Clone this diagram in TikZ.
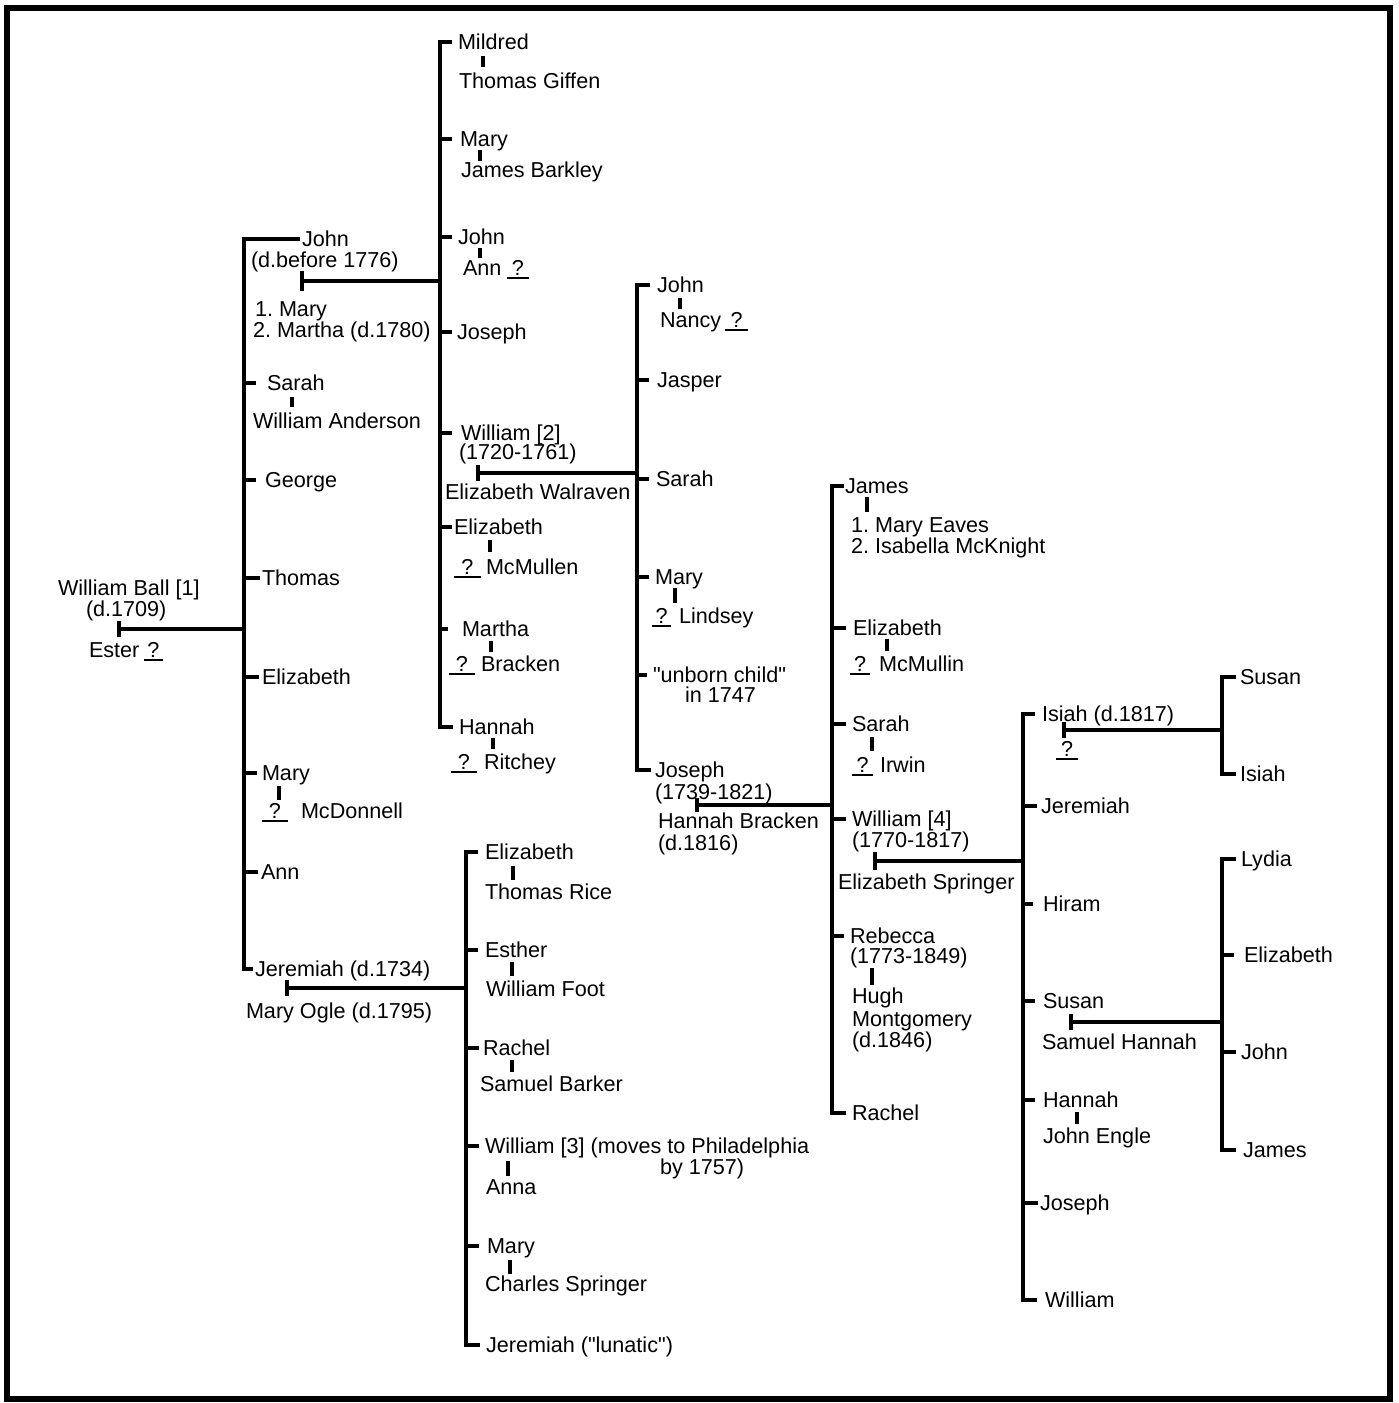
\documentclass[tikz,border=0pt]{standalone}
\usepackage{fontspec}
\setmainfont{Liberation Sans}
\frenchspacing
\newcommand\ulq[1]{\makebox[#1][c]{?}\llap{\rule[-1.6pt]{#1}{0.9pt}}}
\newcommand\sq{\XeTeXglyph\XeTeXcharglyph34\relax}
\newcommand\ctick[3]{\draw[famline] (#1.west -| #2) -- ++(#3,0);}
\newcommand\cbar[5]{\draw[famline] (#1.west -| #3) ++(#4,0) -- (#1.west -| #3) -- (#2.west -| #3) -- ++(#5,0);}
\newcommand\marr[3]{\draw[famline] (#1) ++(0,-#2) -- ++(0,#2*2); \draw[famline] (#1) -- (#1 -| #3);}
\begin{document}
\begin{tikzpicture}[x=0.5pt,y=-0.5pt,
  t/.style={anchor=west, inner sep=0pt, outer sep=0pt, text height=7.7pt, text depth=0pt, font=\fontsize{10.8}{11}\selectfont},
  famline/.style={line width=1.6pt}]
\useasboundingbox (0,0) rectangle (1398,1403);
\draw[line width=3pt] (6.5,8) rectangle (1390,1399);

% bar coordinates
\coordinate (b2) at (244,0);
\coordinate (b3) at (440,0);
\coordinate (b4) at (637,0);
\coordinate (b5) at (832,0);
\coordinate (b6) at (1023,0);
\coordinate (b7) at (1222,0);
\coordinate (b8) at (1222,0);
\coordinate (b9) at (466,0);

% generation 1
\node[t] (wb) at (58,588) {William Ball [1]};
\node[t] (wbd) at (86,609) {(d.1709)};
\node[t] (ester) at (89,650) {Ester};
\node[t] (q0) at (144,650) {\ulq{9.5pt}};
\coordinate (m1) at (119,629);
\marr{m1}{8}{b2}

% generation 2
\node[t] (john) at (302,239) {John};
\node[t] (johnd) at (251,260) {(d.before 1776)};
\node[t] (jw1) at (255,309) {1. Mary};
\node[t] (jw2) at (253,330) {2. Martha (d.1780)};
\coordinate (m2) at (302,281);
\marr{m2}{10}{b3}
\node[t] (sarah) at (267,383) {Sarah};
\draw[famline] (292,397) -- (292,407);
\node[t] (wanderson) at (253,421) {William Anderson};
\node[t] (george) at (265,480) {George};
\node[t] (thomas) at (262,578) {Thomas};
\node[t] (eliz2) at (262,677) {Elizabeth};
\node[t] (mary2) at (262,773) {Mary};
\draw[famline] (279,786) -- (279,800);
\node[t] (q2) at (262,811) {\ulq{13pt}};
\node[t] (mcdonnell) at (301,811) {McDonnell};
\node[t] (ann2) at (261,872) {Ann};
\node[t] (jer) at (255,969) {Jeremiah (d.1734)};
\coordinate (m3) at (287,988);
\marr{m3}{8}{b9}
\node[t] (ogle) at (246,1011) {Mary Ogle (d.1795)};
\cbar{john}{jer}{b2}{56}{9}
\ctick{sarah}{b2}{12}
\ctick{george}{b2}{12}
\ctick{thomas}{b2}{16}
\ctick{eliz2}{b2}{15}
\ctick{mary2}{b2}{13}
\ctick{ann2}{b2}{14}

% generation 3 (John's children)
\node[t] (mildred) at (458,42) {Mildred};
\draw[famline] (483,56) -- (483,67);
\node[t] (tgiffen) at (459,81) {Thomas Giffen};
\node[t] (mary3) at (460,139) {Mary};
\draw[famline] (480,150) -- (480,161);
\node[t] (jbarkley) at (461,170) {James Barkley};
\node[t] (john3) at (458,237) {John};
\draw[famline] (480,248) -- (480,258);
\node[t] (ann3) at (463,268) {Ann};
\node[t] (q3) at (507,268) {\ulq{11pt}};
\node[t] (joseph3) at (457,332) {Joseph};
\node[t] (will2) at (461,433) {William [2]};
\node[t] (will2d) at (459,452) {(1720-1761)};
\coordinate (m4) at (478,473);
\marr{m4}{8}{b4}
\node[t] (ewalraven) at (445,492) {Elizabeth Walraven};
\node[t] (eliz3) at (454,527) {Elizabeth};
\draw[famline] (490,540) -- (490,552);
\node[t] (q4) at (454,567) {\ulq{13.5pt}};
\node[t] (mcmullen) at (486,567) {McMullen};
\node[t] (martha3) at (462,629) {Martha};
\draw[famline] (491,641) -- (491,652);
\node[t] (q5) at (449,664) {\ulq{13pt}};
\node[t] (bracken) at (481,664) {Bracken};
\node[t] (hannah3) at (459,727) {Hannah};
\draw[famline] (493,738) -- (493,749);
\node[t] (q6) at (451,762) {\ulq{13pt}};
\node[t] (ritchey) at (484,762) {Ritchey};
\cbar{mildred}{hannah3}{b3}{12}{13}
\ctick{mary3}{b3}{12}
\ctick{john3}{b3}{12}
\ctick{joseph3}{b3}{12}
\ctick{will2}{b3}{12}
\ctick{eliz3}{b3}{12}
\ctick{martha3}{b3}{8}

% generation 4 (William [2]'s children)
\node[t] (john4) at (657,285) {John};
\draw[famline] (680,298) -- (680,309);
\node[t] (nancy) at (660,320) {Nancy};
\node[t] (q7) at (725,320) {\ulq{11.5pt}};
\node[t] (jasper) at (657,380) {Jasper};
\node[t] (sarah4) at (656,479) {Sarah};
\node[t] (mary4) at (655,577) {Mary};
\draw[famline] (675,588) -- (675,603);
\node[t] (q8) at (652,616) {\ulq{9.5pt}};
\node[t] (lindsey) at (679,616) {Lindsey};
\node[t] (unborn) at (653,675) {\sq unborn child\sq};
\node[t] (in1747) at (685,695) {in 1747};
\node[t] (joseph4) at (655,770) {Joseph};
\node[t] (joseph4d) at (655,792) {(1739-1821)};
\coordinate (m5) at (697,805);
\marr{m5}{7}{b5}
\node[t] (hbracken) at (658,821) {Hannah Bracken};
\node[t] (hbrackend) at (658,843) {(d.1816)};
\cbar{john4}{joseph4}{b4}{13}{14}
\ctick{jasper}{b4}{12}
\ctick{sarah4}{b4}{12}
\ctick{mary4}{b4}{12}
\ctick{unborn}{b4}{10}

% generation 5 (Joseph's children)
\node[t] (james5) at (845,486) {James};
\draw[famline] (867,497) -- (867,512);
\node[t] (mw1) at (851,525) {1. Mary Eaves};
\node[t] (mw2) at (851,546) {2. Isabella McKnight};
\node[t] (eliz5) at (853,628) {Elizabeth};
\draw[famline] (887,639) -- (887,651);
\node[t] (q9) at (850,664) {\ulq{10pt}};
\node[t] (mcmullin) at (879,664) {McMullin};
\node[t] (sarah5) at (852,724) {Sarah};
\draw[famline] (872,737) -- (872,751);
\node[t] (q10) at (852,765) {\ulq{10.5pt}};
\node[t] (irwin) at (880,765) {Irwin};
\node[t] (will4) at (852,819) {William [4]};
\node[t] (will4d) at (852,840) {(1770-1817)};
\coordinate (m6) at (875,861);
\marr{m6}{9}{b6}
\node[t] (espringer) at (838,882) {Elizabeth Springer};
\node[t] (rebecca) at (850,936) {Rebecca};
\node[t] (rebeccad) at (850,956) {(1773-1849)};
\draw[famline] (872,968) -- (872,985);
\node[t] (hugh) at (852,996) {Hugh};
\node[t] (montg) at (852,1019) {Montgomery};
\node[t] (hughd) at (852,1040) {(d.1846)};
\node[t] (rachel5) at (852,1113) {Rachel};
\cbar{james5}{rachel5}{b5}{12}{14}
\ctick{eliz5}{b5}{14}
\ctick{sarah5}{b5}{14}
\ctick{will4}{b5}{14}
\ctick{rebecca}{b5}{12}

% generation 6 (William [4]'s children)
\node[t] (isiah) at (1042,714) {Isiah (d.1817)};
\coordinate (m7) at (1064,730);
\marr{m7}{8}{b7}
\node[t] (q11) at (1056,749) {\ulq{11pt}};
\node[t] (jer6) at (1041,806) {Jeremiah};
\node[t] (hiram) at (1043,904) {Hiram};
\node[t] (susan6) at (1043,1001) {Susan};
\coordinate (m8) at (1071,1022);
\marr{m8}{8}{b8}
\node[t] (shannah) at (1042,1042) {Samuel Hannah};
\node[t] (hannah6) at (1043,1100) {Hannah};
\draw[famline] (1077,1112) -- (1077,1124);
\node[t] (jengle) at (1043,1136) {John Engle};
\node[t] (joseph6) at (1040,1203) {Joseph};
\node[t] (william6) at (1045,1300) {William};
\cbar{isiah}{william6}{b6}{12}{14}
\ctick{jer6}{b6}{14}
\ctick{hiram}{b6}{10}
\ctick{susan6}{b6}{12}
\ctick{hannah6}{b6}{12}
\ctick{joseph6}{b6}{15}

% generation 7
\node[t] (susan7) at (1240,677) {Susan};
\node[t] (isiah7) at (1240,774) {Isiah};
\cbar{susan7}{isiah7}{b7}{14}{14}
\node[t] (lydia) at (1241,859) {Lydia};
\node[t] (eliz8) at (1244,955) {Elizabeth};
\node[t] (john8) at (1241,1052) {John};
\node[t] (james8) at (1243,1150) {James};
\cbar{lydia}{james8}{b8}{14}{14}
\ctick{eliz8}{b8}{12}
\ctick{john8}{b8}{14}

% Jeremiah's children
\node[t] (eliz9) at (485,852) {Elizabeth};
\draw[famline] (513,866) -- (513,880);
\node[t] (trice) at (485,892) {Thomas Rice};
\node[t] (esther) at (485,950) {Esther};
\draw[famline] (512,962) -- (512,976);
\node[t] (wfoot) at (486,989) {William Foot};
\node[t] (rachel9) at (483,1048) {Rachel};
\draw[famline] (512,1060) -- (512,1072);
\node[t] (sbarker) at (480,1084) {Samuel Barker};
\node[t] (will3) at (485,1146) {William [3] (moves to Philadelphia};
\node[t] (will3b) at (660,1167) {by 1757)};
\draw[famline] (508,1161) -- (508,1176);
\node[t] (anna) at (486,1187) {Anna};
\node[t] (mary9) at (487,1246) {Mary};
\draw[famline] (510,1260) -- (510,1274);
\node[t] (cspringer) at (485,1284) {Charles Springer};
\node[t] (jer9) at (486,1345) {Jeremiah (\sq lunatic\sq)};
\cbar{eliz9}{jer9}{b9}{12}{14}
\ctick{esther}{b9}{12}
\ctick{rachel9}{b9}{13}
\ctick{will3}{b9}{13}
\ctick{mary9}{b9}{13}
\end{tikzpicture}
\end{document}
